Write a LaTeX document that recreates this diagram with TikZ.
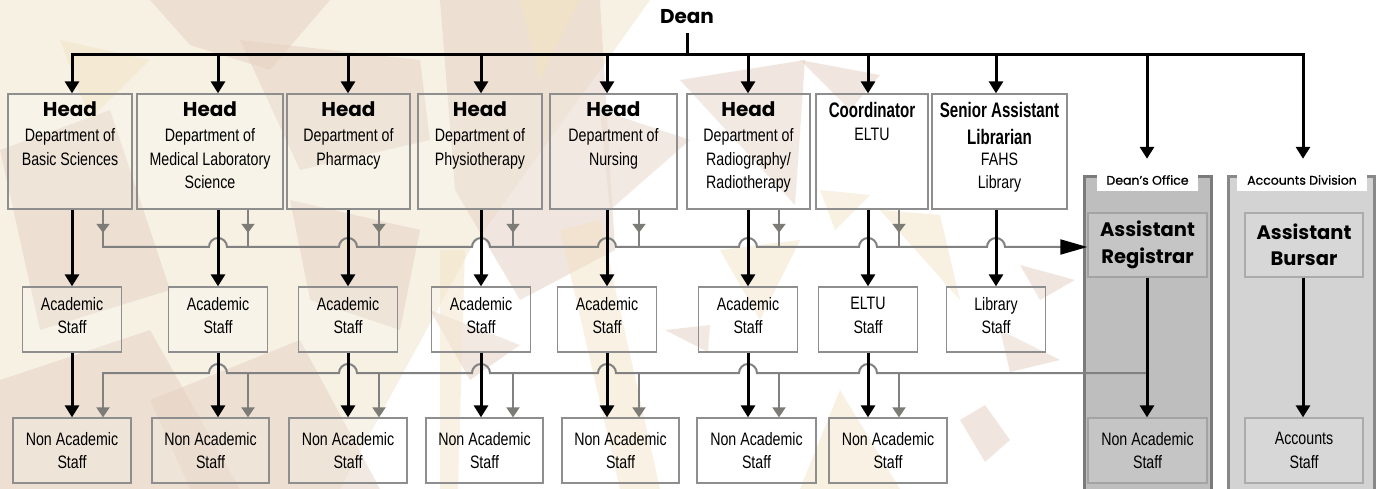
\documentclass[tikz,border=0pt]{standalone}
\usepackage{fontspec}
\setmainfont{Liberation Sans}
\newfontfamily\cond{Liberation Sans}[FakeStretch=0.79]
\newfontfamily\condb{Liberation Sans}[FakeStretch=0.72]
\newfontfamily\pop{Poppins}
\newfontfamily\popm{Poppins}[FakeBold=0.8]
\usetikzlibrary{arrows.meta,decorations.markings}
\definecolor{boxline}{HTML}{8E8E8E}
\definecolor{gline}{HTML}{818181}
\definecolor{garrow}{HTML}{7C7B75}
\definecolor{bgCream}{HTML}{F7F1E4}
\definecolor{bgTan}{HTML}{E6D3C5}
\definecolor{bgYlw}{HTML}{F3E2C2}
\definecolor{doFill}{HTML}{BEBEBF}
\definecolor{doLine}{HTML}{7B7B7B}
\definecolor{doIn}{HTML}{C5C5C6}
\definecolor{doInLine}{HTML}{A3A3A3}
\definecolor{acFill}{HTML}{D3D3D4}
\definecolor{acLine}{HTML}{888888}
\definecolor{acIn}{HTML}{D7D7D8}
\definecolor{acInLine}{HTML}{ABABAB}
\tikzset{
  box/.style={draw=boxline,line width=1.3pt,fill=white,fill opacity=0.15,text opacity=1,inner sep=0pt},
  condtxt/.style={font=\cond\fontsize{18}{23.5}\selectfont,align=center,inner sep=0pt,text=black},
  poptxt/.style={font=\pop\bfseries\fontsize{19.5}{26.3}\selectfont,align=center,inner sep=0pt,text=black},
  tabtxt/.style={fill=white,inner sep=0pt,font=\popm\fontsize{12.5}{14}\selectfont,text=black},
  blk/.style={draw=black,line width=3pt},
  blkarr/.style={blk,-{Triangle[length=12pt,width=14pt]}},
  gl/.style={draw=gline,line width=2pt},
  glarr/.style={gl,-{Triangle[length=10pt,width=13pt,color=garrow]}},
  midarr/.style={gl,postaction={decorate},decoration={markings,mark=at position 0.62 with {\arrow{Triangle[length=9pt,width=13pt,color=garrow]}}}},
  bgt/.style={fill=bgTan,opacity=0.55},
  bgy/.style={fill=bgYlw,opacity=0.5}
}
\begin{document}
\begin{tikzpicture}[x=1pt,y=-1pt]
\useasboundingbox (0,0) rectangle (1379,489);
% ---------- background ----------
\fill[white] (0,0) rectangle (1379,489);
\fill[bgCream] (0,0) -- (650,0) -- (600,70) -- (470,250) -- (340,489) -- (0,489) -- cycle;
\fill[bgt] (150,0) -- (330,0) -- (270,70) -- (190,45) -- cycle;
\fill[bgt] (240,40) -- (420,60) -- (430,140) -- (300,170) -- cycle;
\fill[bgt] (440,0) -- (600,0) -- (615,250) -- (520,300) -- (455,190) -- cycle;
\fill[bgt] (680,80) -- (805,60) -- (795,205) -- cycle;
\fill[bgt] (600,110) -- (690,140) -- (610,210) -- cycle;
\fill[bgt] (800,60) -- (880,75) -- (850,110) -- cycle;
\fill[bgt] (0,150) -- (110,110) -- (170,290) -- (40,330) -- cycle;
\fill[bgt] (0,380) -- (150,330) -- (240,489) -- (0,489) -- cycle;
\fill[bgt] (150,400) -- (300,340) -- (380,489) -- (190,489) -- cycle;
\fill[bgt] (290,200) -- (420,230) -- (400,330) -- (310,300) -- cycle;
\fill[bgt] (430,310) -- (520,345) -- (470,380) -- cycle;
\fill[bgt] (665,330) -- (710,325) -- (708,352) -- cycle;
\fill[bgt] (960,420) -- (985,405) -- (1010,440) -- (985,462) -- cycle;
\fill[bgt] (1020,265) -- (1075,280) -- (1040,300) -- cycle;
\fill[bgt] (1000,330) -- (1060,360) -- (1010,372) -- cycle;
\fill[bgy] (440,250) -- (465,250) -- (458,489) -- (440,489) -- cycle;
\fill[bgy] (560,230) -- (600,220) -- (660,489) -- (620,489) -- cycle;
\fill[bgy] (520,0) -- (580,0) -- (540,80) -- cycle;
\fill[bgy] (720,250) -- (800,240) -- (760,320) -- cycle;
\fill[bgy] (840,390) -- (900,489) -- (800,489) -- cycle;
\fill[bgy] (820,190) -- (870,195) -- (835,230) -- cycle;
\fill[bgy] (60,40) -- (150,60) -- (90,120) -- cycle;
\fill[bgy] (880,210) -- (940,215) -- (960,300) -- cycle;
% ---------- coordinates ----------
\foreach \i/\x in {1/72,2/218,3/348,4/481,5/607,6/748,7/868,8/996,9/1147,10/1303}
  \coordinate (c\i) at (\x,0);
\foreach \i/\x in {1/103,2/248,3/379,4/513,5/639,6/779,7/899}
  \coordinate (g\i) at (\x,0);
\coordinate (bar) at (687,55);
\coordinate (tb) at (0,247);
\coordinate (bb) at (0,373);
% ---------- right panels ----------
\node[draw=doLine,line width=3pt,fill=doFill,minimum width=127pt,minimum height=318pt,inner sep=0pt] (dop) at (1147.5,336) {};
\node[tabtxt,minimum width=101pt,minimum height=22pt] (dotab) at (1147.5,180) {Dean’s Office};
\node[draw=acLine,line width=3pt,fill=acFill,minimum width=146pt,minimum height=318pt,inner sep=0pt] (acp) at (1301,336) {};
\node[tabtxt,minimum width=130pt,minimum height=22pt] (actab) at (1302,180) {Accounts Division};
\node[poptxt,draw=doInLine,line width=1.3pt,fill=doIn,minimum width=119pt,minimum height=64pt] (AR) at (1147.5,245) {Assistant\\Registrar};
\node[condtxt,draw=doInLine,line width=1.3pt,fill=doIn,minimum width=119pt,minimum height=65pt] (dNAS) at (1147.5,450.5) {Non Academic\\Staff};
\node[poptxt,draw=acInLine,line width=1.3pt,fill=acIn,minimum width=118pt,minimum height=64pt] (AB) at (1304,245) {Assistant\\Bursar};
\node[condtxt,draw=acInLine,line width=1.3pt,fill=acIn,minimum width=118pt,minimum height=65pt] (AS) at (1304,450.5) {Accounts\\Staff};
% ---------- boxes ----------
\foreach \i/\a/\b in {1/8/132,2/137/283,3/287/410,4/418/542,5/550/677,6/687/810,7/816/928,8/932/1067}
  \node[box,minimum width={(\b-\a)*1pt},minimum height=115pt] (h\i) at ({(\a+\b)/2},151.5) {};
\foreach \i/\x in {1/72,2/218,3/348,4/481,5/607,6/748,7/868,8/996}
  \node[box,minimum width=99pt,minimum height=65pt] (a\i) at (\x,319.5) {};
\foreach \i/\a/\b in {1/13/131,2/152/269,3/289/407,4/426/543,5/562/679,6/697/816,7/829/947}
  \node[box,condtxt,minimum width={(\b-\a)*1pt},minimum height=65pt] (n\i) at ({(\a+\b)/2},450.5) {Non Academic\\Staff};
% ---------- gray connectors ----------
\foreach \i in {1,...,7}
  \draw[midarr] (h\i.south -| g\i) -- (tb -| g\i);
\draw[gl,line cap=rect,-{Triangle[length=27pt,width=15pt,color=black]}] (tb -| g1)
  \foreach \i in {2,...,8} { -- ([xshift=-9pt]tb -| c\i) arc[start angle=180,end angle=0,radius=9pt] }
  -- (AR.west |- tb);
\draw[gl,line cap=rect] (bb -| g1)
  \foreach \i in {2,...,7} { -- ([xshift=-9pt]bb -| c\i) arc[start angle=180,end angle=0,radius=9pt] }
  -- (bb -| c9);
\foreach \i in {1,...,7}
  \draw[glarr] (bb -| g\i) -- (n\i.north -| g\i);
% ---------- black connectors ----------
\node[font=\pop\bfseries\fontsize{20}{24}\selectfont,anchor=base,inner sep=0pt] (dean) at (687,24) {Dean};
\draw[blk,shorten <=9pt] (dean.south) -- (bar);
\draw[blk,{Triangle[length=12pt,width=14pt]}-{Triangle[length=12pt,width=14pt]},shorten >=10pt]
  (h1.north -| c1) -- (bar -| c1) -- (bar -| c10) -- (actab.north -| c10);
\foreach \i in {2,...,8}
  \draw[blkarr] (bar -| c\i) -- (h\i.north -| c\i);
\draw[blkarr,shorten >=10pt] (bar -| c9) -- (dotab.north -| c9);
\foreach \i in {1,...,8}
  \draw[blkarr] (h\i.south -| c\i) -- (a\i.north -| c\i);
\foreach \i in {1,...,7}
  \draw[blkarr] (a\i.south -| c\i) -- (n\i.north -| c\i);
\draw[blkarr] (AR.south -| c9) -- (dNAS.north -| c9);
\draw[blkarr] (AB.south -| c10) -- (AS.north -| c10);
% ---------- texts ----------
\def\hd{\pop\bfseries\fontsize{20}{24}\selectfont Head}
\def\cb{\condb\bfseries\fontsize{21}{27}\selectfont}
\node[condtxt,anchor=north] (h1t) at ([yshift=-8.5pt]h1.north) {\hd\\[1.2pt]Department of\\Basic Sciences};
\node[condtxt,anchor=north] (h2t) at ([yshift=-8.5pt]h2.north) {\hd\\[1.2pt]Department of\\Medical Laboratory\\Science};
\node[condtxt,anchor=north] (h3t) at ([yshift=-8.5pt]h3.north) {\hd\\[1.2pt]Department of\\Pharmacy};
\node[condtxt,anchor=north] (h4t) at ([yshift=-8.5pt]h4.north) {\hd\\[1.2pt]Department of\\Physiotherapy};
\node[condtxt,anchor=north] (h5t) at ([yshift=-8.5pt]h5.north) {\hd\\[1.2pt]Department of\\Nursing};
\node[condtxt,anchor=north] (h6t) at ([yshift=-8.5pt]h6.north) {\hd\\[1.2pt]Department of\\Radiography/\\Radiotherapy};
\node[condtxt,anchor=north] (h7t) at ([yshift=-8.5pt]h7.north) {\cb Coordinator\\ELTU};
\node[condtxt,anchor=north] (h8t) at ([yshift=-8.5pt]h8.north) {\cb Senior Assistant\\[3.5pt]\cb Librarian\\[-2pt]FAHS\\[-1pt]Library};
\foreach \i/\w in {1/Academic,2/Academic,3/Academic,4/Academic,5/Academic,6/Academic,7/ELTU,8/Library}
  \node[condtxt] (a\i t) at ([yshift=4pt]a\i.center) {\w\\Staff};
\end{tikzpicture}
\end{document}
